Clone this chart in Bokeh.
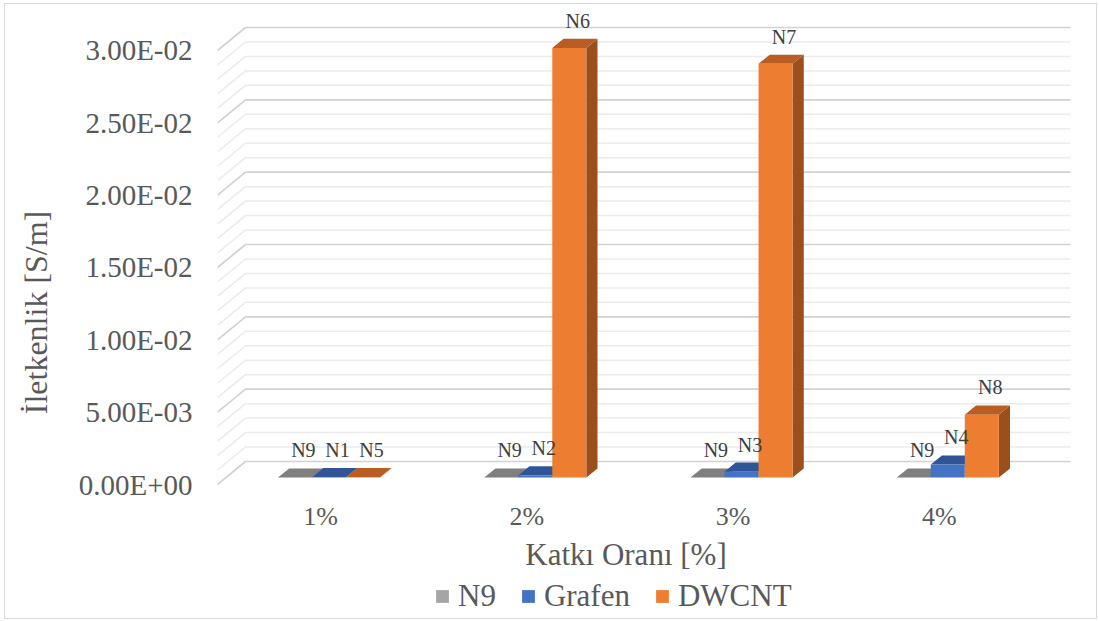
from bokeh.plotting import figure
from bokeh.models import Range1d, FixedTicker, Legend, LegendItem
from bokeh.embed import file_html
from bokeh.resources import INLINE
from bokeh.core.properties import value

# ---- data: conductivity [S/m] per additive ratio ----
categories = ["1%", "2%", "3%", "4%"]
series_names = ["N9", "Grafen", "DWCNT"]
n9_values = [1.0e-9, 1.0e-9, 1.0e-9, 1.0e-9]
grafen_values = [2.0e-5, 1.5e-4, 4.0e-4, 9.0e-4]
dwcnt_values = [3.0e-5, 2.97e-2, 2.86e-2, 4.35e-3]
n9_labels = ["N9", "N9", "N9", "N9"]
grafen_labels = ["N1", "N2", "N3", "N4"]
dwcnt_labels = ["N5", "N6", "N7", "N8"]
y_ticks = [0.0, 0.005, 0.01, 0.015, 0.02, 0.025, 0.03]
y_tick_labels = ["0.00E+00", "5.00E-03", "1.00E-02", "1.50E-02",
                 "2.00E-02", "2.50E-02", "3.00E-02"]
x_title = "Katkı Oranı [%]"
y_title = "İletkenlik [S/m]"

series_values = [n9_values, grafen_values, dwcnt_values]
series_labels = [n9_labels, grafen_labels, dwcnt_labels]
# (front, top, side) face colours of each series
series_colors = [
    ("#A5A5A5", "#7F7F7F", "#6B6B6B"),
    ("#4472C4", "#2F5597", "#2A4B88"),
    ("#ED7D31", "#B95D22", "#9B4F1D"),
]

FONT = "Liberation Serif"
TEXT = "#595959"

# oblique projection: screen pixels per category / per S/m on the front plane
PX_PER_CAT = 206.25
PX_PER_VAL = 14467.0
WALL_DX = 28 / PX_PER_CAT      # depth of floor and side wall, x units
WALL_DY = 23 / PX_PER_VAL      # same depth, y units
BAR_W = 0.165
BAR_D0, BAR_D1 = 0.3, 0.7      # bars occupy the middle of the depth

FRAME_W, FRAME_H = 855, 616
ZERO_FROM_TOP = 480            # pixels from frame top down to the front zero line
x_range = Range1d(0, FRAME_W / PX_PER_CAT)
y_range = Range1d(-(FRAME_H - ZERO_FROM_TOP) / PX_PER_VAL, ZERO_FROM_TOP / PX_PER_VAL)


def px_x(px):
    """horizontal pixel distance from the front-left corner, in x units"""
    return px / PX_PER_CAT


def px_y(px):
    """vertical pixel distance above the front zero line, in y units"""
    return px / PX_PER_VAL


p = figure(width=1093, height=616, x_range=x_range, y_range=y_range,
           output_backend="svg", toolbar_location=None, x_axis_location=None,
           min_border_left=212, min_border_right=26,
           min_border_top=0, min_border_bottom=0)
p.styles = {"margin-left": "4px", "margin-top": "3px",
            "border": "1px solid #D9D9D9"}
p.outline_line_color = None
p.grid.visible = False
p.background_fill_color = "white"
p.border_fill_color = "white"

# ---- value axis ----
ax = p.yaxis[0]
ax.axis_line_color = None
ax.major_tick_line_color = None
ax.minor_tick_line_color = None
ax.ticker = FixedTicker(ticks=y_ticks)
ax.major_label_overrides = dict(zip(y_ticks, y_tick_labels))
ax.major_label_text_font = FONT
ax.major_label_text_color = TEXT
ax.major_label_text_font_size = "29px"
ax.major_label_standoff = 19
ax.axis_label = y_title
ax.axis_label_text_font = FONT
ax.axis_label_text_font_style = "normal"
ax.axis_label_text_font_size = "32px"
ax.axis_label_text_color = TEXT
ax.axis_label_standoff = 22

# ---- walls: side-wall diagonals joined to back-wall lines ----
n_cat = len(categories)
major_vals = list(y_ticks)
minor_vals = []
for lo, hi in zip(y_ticks[:-1], y_ticks[1:]):
    minor_vals += [lo + (hi - lo) * k / 5 for k in range(1, 5)]


def wall_line(v):
    return [0, WALL_DX, n_cat + WALL_DX], [v, v + WALL_DY, v + WALL_DY]


mx, my = zip(*[wall_line(v) for v in minor_vals])
p.multi_line(xs=list(mx), ys=list(my), line_color="#EBEBEB", line_width=1.5)
Mx, My = zip(*[wall_line(v) for v in major_vals])
p.multi_line(xs=list(Mx), ys=list(My), line_color="#D2D2D2", line_width=1.7)

# ---- 3-D bars ----
a, b = BAR_D0, BAR_D1
front_renderers = []
lab_x, lab_y, lab_t = [], [], []
for j, (vals, labs, cols) in enumerate(zip(series_values, series_labels, series_colors)):
    fx, fy, tx, ty, sx, sy = [], [], [], [], [], []
    for i, v in enumerate(vals):
        xc = i + 0.5 + (j - 1) * BAR_W
        x0, x1 = xc - BAR_W / 2, xc + BAR_W / 2
        fx.append([x0 + a * WALL_DX, x1 + a * WALL_DX, x1 + a * WALL_DX, x0 + a * WALL_DX])
        fy.append([a * WALL_DY, a * WALL_DY, v + a * WALL_DY, v + a * WALL_DY])
        tx.append([x0 + a * WALL_DX, x1 + a * WALL_DX, x1 + b * WALL_DX, x0 + b * WALL_DX])
        ty.append([v + a * WALL_DY, v + a * WALL_DY, v + b * WALL_DY, v + b * WALL_DY])
        sx.append([x1 + a * WALL_DX, x1 + b * WALL_DX, x1 + b * WALL_DX, x1 + a * WALL_DX])
        sy.append([a * WALL_DY, b * WALL_DY, v + b * WALL_DY, v + a * WALL_DY])
        lab_x.append(xc + 0.6 * WALL_DX)
        lab_y.append(v + b * WALL_DY)
        lab_t.append(labs[i])
    p.patches(xs=sx, ys=sy, fill_color=cols[2], line_color=None)
    p.patches(xs=tx, ys=ty, fill_color=cols[1], line_color=None)
    fr = p.patches(xs=fx, ys=fy, fill_color=cols[0], line_color=None)
    front_renderers.append(fr)

# data labels above the bars
p.text(x=lab_x, y=lab_y, text=lab_t, text_font=value(FONT),
       text_font_size="20px", text_color="#404040",
       text_align="center", text_baseline="middle", y_offset=-18)

# category labels along the front edge of the floor
p.text(x=[i + 0.5 for i in range(n_cat)], y=[px_y(-32)] * n_cat, text=categories,
       text_font=value(FONT), text_font_size="26px", text_color=TEXT,
       text_align="center", text_baseline="middle")

# category axis title
p.text(x=[px_x(408.5)], y=[px_y(-69.5)], text=[x_title],
       text_font=value(FONT), text_font_size="31px", text_color=TEXT,
       text_align="center", text_baseline="middle")

# ---- legend ----
legend = Legend(items=[LegendItem(label=n, renderers=[r])
                       for n, r in zip(series_names, front_renderers)],
                orientation="horizontal", location=(217, 6),
                glyph_width=16, glyph_height=16, label_standoff=8, spacing=24,
                padding=0, margin=0, border_line_color=None,
                background_fill_alpha=0,
                label_text_font=FONT, label_text_font_size="31px",
                label_text_color=TEXT)
p.add_layout(legend, "center")

open("out.html", "w").write(file_html(p, INLINE))
